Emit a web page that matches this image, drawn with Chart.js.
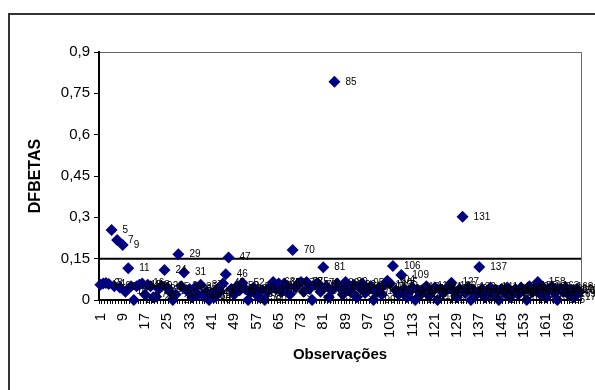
<!DOCTYPE html>
<html>
<head>
<meta charset="utf-8">
<script src="https://cdn.jsdelivr.net/npm/chart.js@4"></script>
<style>
  html, body { margin: 0; padding: 0; background: #fff; }
  #wrap { width: 595px; height: 390px; }
</style>
</head>
<body>
<div id="wrap"><canvas id="myChart" width="595" height="390"></canvas></div>
<script>
// observations 1..173
const observacoes = Array.from({ length: 173 }, (_, i) => String(i + 1))

// DFBETAS (rough for the crowded band near zero)
const dfbetas = [
  0.055, 0.060, 0.062, 0.058, 0.254, 0.050, 0.218, 0.045, 0.200, 0.030,
  0.115, 0.050, 0.000, 0.050, 0.055, 0.060, 0.020, 0.055, 0.050, 0.010,
  0.012, 0.040, 0.050, 0.109, 0.045, 0.030, 0.000, 0.020, 0.166, 0.050,
  0.100, 0.035, 0.040, 0.010, 0.045, 0.020, 0.055, 0.015, 0.030, 0.000,
  0.025, 0.010, 0.040, 0.030, 0.060, 0.093, 0.154, 0.040, 0.020, 0.050,
  0.035, 0.062, 0.040, 0.000, 0.030, 0.045, 0.020, 0.010, 0.035, 0.000,
  0.030, 0.050, 0.065, 0.040, 0.060, 0.030, 0.060, 0.050, 0.020, 0.181,
  0.045, 0.060, 0.065, 0.030, 0.065, 0.040, 0.000, 0.055, 0.060, 0.030,
  0.119, 0.050, 0.010, 0.035, 0.792, 0.060, 0.045, 0.020, 0.065, 0.040,
  0.030, 0.055, 0.010, 0.045, 0.060, 0.025, 0.035, 0.050, 0.000, 0.030,
  0.045, 0.020, 0.055, 0.070, 0.060, 0.123, 0.035, 0.020, 0.091, 0.040,
  0.010, 0.030, 0.045, 0.000, 0.035, 0.020, 0.040, 0.050, 0.015, 0.030,
  0.045, 0.000, 0.040, 0.025, 0.035, 0.050, 0.063, 0.030, 0.010, 0.040,
  0.302, 0.025, 0.045, 0.000, 0.035, 0.020, 0.120, 0.040, 0.010, 0.030,
  0.045, 0.020, 0.035, 0.000, 0.040, 0.025, 0.045, 0.010, 0.030, 0.040,
  0.020, 0.045, 0.035, 0.000, 0.050, 0.030, 0.040, 0.065, 0.020, 0.045,
  0.010, 0.035, 0.050, 0.025, 0.000, 0.040, 0.030, 0.045, 0.020, 0.035,
  0.010, 0.040, 0.030
]

const limite = 0.15          // reference line
const yTicks = [0, 0.15, 0.3, 0.45, 0.6, 0.75, 0.9]
const xTickStep = 8

// frame around the whole chart + plot area border
const frame = {
  id: "frame",
  beforeDraw(chart) {
    const { ctx, chartArea: a } = chart
    ctx.save()
    ctx.fillStyle = "#fff"
    ctx.fillRect(0, 0, chart.width, chart.height)
    ctx.strokeStyle = "#333"
    ctx.lineWidth = 2
    ctx.beginPath()
    ctx.moveTo(9, chart.height)
    ctx.lineTo(9, 14)
    ctx.lineTo(chart.width, 14)
    ctx.stroke()
    ctx.strokeStyle = "#666"
    ctx.lineWidth = 1
    ctx.beginPath()
    ctx.moveTo(a.left, a.top + 0.5)
    ctx.lineTo(a.right + 0.5, a.top + 0.5)
    ctx.lineTo(a.right + 0.5, a.bottom)
    ctx.stroke()
    ctx.restore()
  }
}

// 0.15 line and the number next to every point
const extras = {
  id: "extras",
  beforeDatasetsDraw(chart) {
    const { ctx, chartArea: a, scales } = chart
    const y = scales.y.getPixelForValue(limite)
    ctx.save()
    ctx.strokeStyle = "#000"
    ctx.lineWidth = 2
    ctx.beginPath()
    ctx.moveTo(a.left, y)
    ctx.lineTo(a.right, y)
    ctx.stroke()
    ctx.restore()
  },
  afterDatasetsDraw(chart) {
    const { ctx } = chart
    const meta = chart.getDatasetMeta(0)
    ctx.save()
    ctx.fillStyle = "#000"
    ctx.font = "10px 'Liberation Sans', Arial, sans-serif"
    ctx.textBaseline = "middle"
    ctx.textAlign = "left"
    meta.data.forEach((pt, i) => {
      ctx.fillText(observacoes[i], pt.x + 11, pt.y)
    })
    ctx.restore()
  }
}

const ctx = document.getElementById("myChart")

let grafico = new Chart(ctx, {
  type: "line",
  data: {
    labels: observacoes,
    datasets: [{
      data: dfbetas,
      showLine: false,
      pointStyle: "rectRot",
      pointRadius: 6,
      pointHoverRadius: 6,
      pointBackgroundColor: "#000080",
      pointBorderColor: "#000080",
      pointBorderWidth: 0,
      clip: false
    }]
  },
  options: {
    responsive: false,
    animation: false,
    events: [],
    layout: { padding: { left: 0, top: 52, right: 14, bottom: 0 } },
    plugins: {
      legend: { display: false },
      tooltip: { enabled: false }
    },
    scales: {
      x: {
        type: "category",
        offset: true,
        afterFit(scale) {
          scale.height = 90
          scale.paddingLeft = 0
          scale.paddingRight = 0
        },
        border: { display: true, color: "#000", width: 2 },
        grid: {
          display: true,
          offset: true,
          drawOnChartArea: false,
          drawTicks: true,
          tickLength: 4,
          color: "#000",
          lineWidth: 1
        },
        ticks: {
          autoSkip: false,
          minRotation: 90,
          maxRotation: 90,
          padding: 9,
          color: "#000",
          font: { family: "'Liberation Sans', Arial, sans-serif", size: 15 },
          callback: (v, i) => (i % xTickStep === 0 ? observacoes[i] : "")
        },
        title: {
          display: true,
          text: "Observações",
          color: "#000",
          font: { family: "'Liberation Sans', Arial, sans-serif", size: 15, weight: "bold" },
          padding: { top: 0, bottom: 26 }
        }
      },
      y: {
        min: 0,
        max: 0.9,
        afterFit(scale) {
          scale.width = 99
          scale.paddingTop = 0
          scale.paddingBottom = 0
        },
        afterBuildTicks(scale) { scale.ticks = yTicks.map(v => ({ value: v })) },
        border: { display: true, color: "#000", width: 2 },
        grid: {
          display: true,
          drawOnChartArea: false,
          drawTicks: true,
          tickLength: 5,
          color: "#000"
        },
        ticks: {
          padding: 4,
          color: "#000",
          font: { family: "'Liberation Sans', Arial, sans-serif", size: 15 },
          callback: v => String(+v.toFixed(2)).replace(".", ",")
        },
        title: {
          display: true,
          text: "DFBETAS",
          color: "#000",
          font: { family: "'Liberation Sans', Arial, sans-serif", size: 16, weight: "bold" },
          padding: { top: 26, bottom: 0 }
        }
      }
    }
  },
  plugins: [frame, extras]
})
</script>
</body>
</html>
